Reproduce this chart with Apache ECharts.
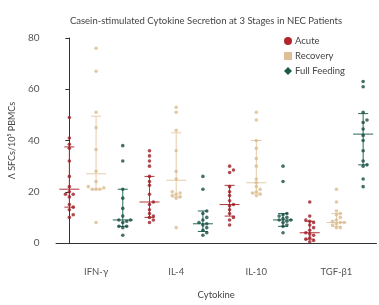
<!DOCTYPE html>
<html>
<head>
<meta charset="utf-8">
<script src="https://cdn.jsdelivr.net/npm/echarts@6/dist/echarts.min.js"></script>
<style>
  html, body { margin: 0; padding: 0; background: #fff; }
  #main { width: 379px; height: 305px; }
</style>
</head>
<body>
<div id="main"></div>
<script>
// cytokines on the x axis, three stages per cytokine
const cytokines = ['IFN-γ', 'IL-4', 'IL-10', 'TGF-β1'];
const stages = ['Acute', 'Recovery', 'Full Feeding'];
const stageColors = ['#9c1e24', '#dcbb8d', '#174d41'];
const statColors = ['#b0343a', '#e4cca9', '#2a675a'];
const legendColors = ['#b3262c', '#e0bd92', '#1d5a4c'];
const legendIcons = ['circle', 'rect', 'diamond'];

// individual patients (Λ SFCs / 10^5 PBMCs), per cytokine
const acuteValues = [
  [49, 41, 38.5, 37, 32, 26, 22, 20, 19, 19, 18, 15, 14, 13, 11, 10],
  [36, 34, 32, 30, 26, 24, 22.5, 19, 16, 15, 13, 11.5, 10.5, 10, 9, 8],
  [30, 28.5, 27.5, 22, 20, 18.5, 16.5, 15, 14.5, 13, 11.5, 10, 9, 7],
  [16, 10.5, 9, 8.5, 8, 7, 6, 5, 4, 3.5, 3, 2, 1.5, 1, 0.5]
];
const recoveryValues = [
  [76, 67, 51, 45, 36.5, 28, 24, 22, 21.5, 21, 21, 21, 8],
  [53, 51, 44, 36, 28, 25, 20, 19.5, 19, 18.5, 18, 17.5, 6],
  [51, 48, 40, 37, 33, 30, 25, 23.5, 22, 21, 20, 19.5, 19, 18.5],
  [21, 16, 12.5, 11.5, 11, 10, 9, 8.5, 8, 8, 7.5, 7, 6, 6]
];
const feedingValues = [
  [38, 32, 21, 17.5, 13.5, 10.5, 9, 9, 8.5, 8, 6.5, 6.5, 6, 3],
  [26, 21, 12.5, 11.5, 10, 9, 8, 7.5, 7, 6, 5, 4, 3],
  [30, 24, 11.5, 11, 10.5, 10, 9.5, 9, 9, 8.5, 8, 7, 6.5, 4],
  [63, 61, 51, 48, 47, 44.5, 42, 40, 36, 32, 30.5, 30, 25, 22]
];

// median and error bar ends
const acuteMedian = [21, 16, 15, 4];
const acuteLow = [14, 10, 10.5, 1.5];
const acuteHigh = [37.5, 26, 22.5, 8.5];
const recoveryMedian = [27, 24.5, 23.5, 8];
const recoveryLow = [21, 18, 19.5, 6.5];
const recoveryHigh = [49.5, 43, 40, 11.5];
const feedingMedian = [9, 7.5, 9, 42.5];
const feedingLow = [6.5, 4.5, 6.5, 30.5];
const feedingHigh = [21, 12.5, 11.5, 50.5];

const yTicks = [0, 20, 40, 60, 80];

const valuesByStage = [acuteValues, recoveryValues, feedingValues];
const statsByStage = [
  [acuteLow, acuteMedian, acuteHigh],
  [recoveryLow, recoveryMedian, recoveryHigh],
  [feedingLow, feedingMedian, feedingHigh]
];

// approximate pixel scale, only used to spread overlapping dots sideways
const PX_X = 26.9;
const PX_Y = 212 / 80;
const DOT = 3.9;

function swarm(values, center) {
  const placed = [];
  return values.slice().sort((a, b) => a - b).map(v => {
    const py = v * PX_Y;
    let off = 0;
    for (let i = 0; i < 40; i++) {
      const cand = i === 0 ? 0 : (i % 2 ? 1 : -1) * Math.ceil(i / 2) * DOT;
      const hit = placed.some(p => Math.hypot(p[0] - cand, p[1] - py) < DOT - 0.05);
      if (!hit) { off = cand; break; }
    }
    placed.push([off, py]);
    return [center + off / PX_X, v];
  });
}

const slots = [];
cytokines.forEach((c, g) => stages.forEach((s, k) => slots.push(k === 1 ? c : '')));

const series = [];
stages.forEach((name, k) => {
  const pts = [];
  const stats = [];
  cytokines.forEach((c, g) => {
    const x = g * 3 + k;
    swarm(valuesByStage[k][g], x).forEach(p => pts.push(p));
    stats.push([x, statsByStage[k][0][g], statsByStage[k][1][g], statsByStage[k][2][g]]);
  });
  series.push({
    name: name,
    type: 'custom',
    xAxisIndex: 1,
    silent: true,
    data: stats,
    z: 1,
    renderItem: (params, api) => {
      const x = api.value(0);
      const lo = api.coord([x, api.value(1)]);
      const md = api.coord([x, api.value(2)]);
      const hi = api.coord([x, api.value(3)]);
      const wide = 10, cap = 5;
      const style = { stroke: statColors[k], lineWidth: 1 };
      return {
        type: 'group',
        children: [
          { type: 'line', shape: { x1: lo[0], y1: lo[1], x2: hi[0], y2: hi[1] }, style },
          { type: 'line', shape: { x1: md[0] - wide, y1: md[1], x2: md[0] + wide, y2: md[1] }, style },
          { type: 'line', shape: { x1: lo[0] - cap, y1: lo[1], x2: lo[0] + cap, y2: lo[1] }, style },
          { type: 'line', shape: { x1: hi[0] - cap, y1: hi[1], x2: hi[0] + cap, y2: hi[1] }, style }
        ]
      };
    }
  });
  series.push({
    name: name,
    type: 'scatter',
    xAxisIndex: 1,
    symbol: 'circle',
    symbolSize: 3.6,
    itemStyle: { color: stageColors[k] },
    data: pts,
    z: 2
  });
});

const chart = echarts.init(document.getElementById('main'));
chart.setOption({
  animation: false,
  textStyle: { fontFamily: 'Lato' },
  title: {
    text: 'Casein-stimulated Cytokine Secretion at 3 Stages in NEC Patients',
    left: 201,
    top: 11,
    textAlign: 'center',
    textStyle: { fontSize: 9.5, fontWeight: 'normal', color: '#444', fontFamily: 'Lato' }
  },
  legend: {
    orient: 'vertical',
    left: 279,
    top: 31,
    itemWidth: 8,
    itemHeight: 8,
    itemGap: 5,
    textStyle: { fontSize: 9.5, color: '#444', padding: [0, 0, 0, -2] },
    data: stages.map((s, k) => ({ name: s, icon: legendIcons[k], itemStyle: { color: legendColors[k] } }))
  },
  grid: { left: 53.5, right: 2.5, top: 38, bottom: 55 },
  xAxis: [
    {
      type: 'category',
      data: slots,
      offset: 12,
      boundaryGap: true,
      name: 'Cytokine',
      nameLocation: 'middle',
      nameGap: 35,
      nameTextStyle: { fontSize: 9.5, color: '#444' },
      axisLine: { lineStyle: { color: '#333', width: 1 } },
      axisTick: { alignWithLabel: true, interval: 0, length: 4, lineStyle: { color: '#333' } },
      axisLabel: { interval: 0, fontSize: 9.5, color: '#555', margin: 12 }
    },
    { type: 'value', min: -0.5, max: 11.5, show: false }
  ],
  yAxis: {
    type: 'value',
    min: yTicks[0],
    max: yTicks[yTicks.length - 1],
    interval: 20,
    offset: 13.5,
    name: 'Λ SFCs/10⁵ PBMCs',
    nameLocation: 'middle',
    nameGap: 24,
    nameTextStyle: { fontSize: 9, color: '#444' },
    axisLine: { show: true, lineStyle: { color: '#333', width: 1 } },
    axisTick: { show: true, length: 4, lineStyle: { color: '#333' } },
    axisLabel: { fontSize: 10, color: '#555', margin: 3 },
    splitLine: { show: false }
  },
  series: series
});
</script>
</body>
</html>
